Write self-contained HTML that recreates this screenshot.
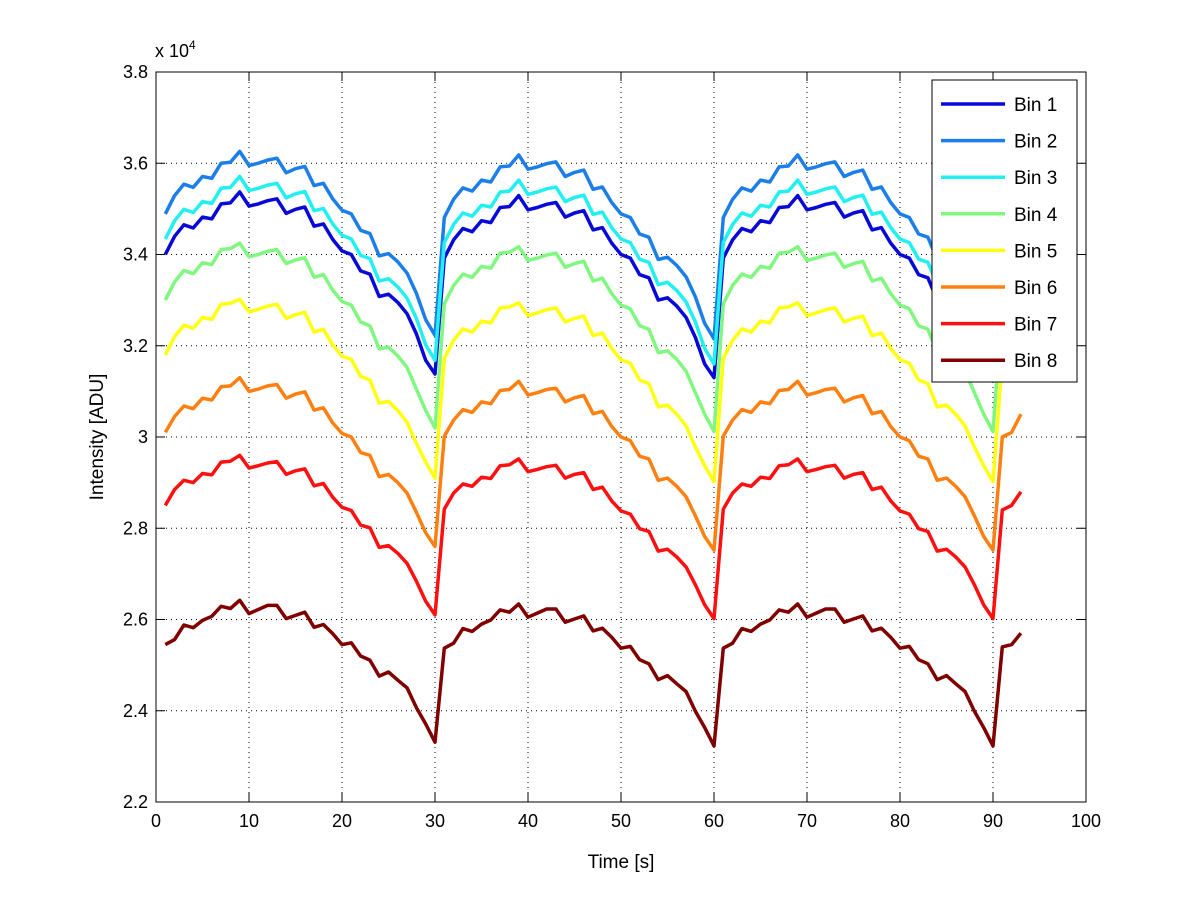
<!DOCTYPE html>
<html><head><meta charset="utf-8"><style>body{margin:0;background:#fff}svg{display:block;font-family:"Liberation Sans",sans-serif}</style></head>
<body>
<svg id="chart" width="1200" height="901" viewBox="0 0 1200 901"></svg>
<script>
const binNames=["Bin 1","Bin 2","Bin 3","Bin 4","Bin 5","Bin 6","Bin 7","Bin 8"];
const binColors=["#0808d8","#1c7ee8","#22f0f0","#80f880","#ffff10","#ff8010","#ff1010","#800000"];
const bin1=[3.400,3.440,3.465,3.458,3.482,3.478,3.511,3.513,3.537,3.506,3.511,3.518,3.522,3.490,3.499,3.504,3.462,3.467,3.433,3.408,3.400,3.364,3.357,3.308,3.313,3.295,3.270,3.226,3.168,3.138];
const bin2=[3.489,3.529,3.554,3.547,3.571,3.567,3.600,3.602,3.626,3.595,3.600,3.607,3.611,3.579,3.588,3.593,3.551,3.556,3.522,3.497,3.489,3.453,3.446,3.397,3.402,3.384,3.359,3.315,3.257,3.223];
const bin3=[3.434,3.474,3.499,3.492,3.516,3.512,3.545,3.547,3.571,3.540,3.545,3.552,3.556,3.524,3.533,3.538,3.496,3.501,3.467,3.442,3.434,3.398,3.391,3.342,3.347,3.329,3.304,3.260,3.202,3.168];
const bin4=[3.300,3.340,3.365,3.358,3.382,3.378,3.411,3.413,3.425,3.395,3.400,3.407,3.411,3.380,3.388,3.393,3.350,3.356,3.322,3.297,3.289,3.252,3.244,3.193,3.197,3.178,3.152,3.105,3.058,3.020];
const bin5=[3.180,3.220,3.245,3.238,3.262,3.258,3.291,3.293,3.302,3.274,3.280,3.287,3.291,3.260,3.268,3.273,3.230,3.236,3.202,3.177,3.170,3.133,3.125,3.074,3.078,3.058,3.032,2.986,2.945,2.910];
const bin6=[3.010,3.045,3.068,3.062,3.085,3.081,3.110,3.112,3.130,3.100,3.105,3.112,3.115,3.085,3.094,3.099,3.059,3.064,3.031,3.008,3.000,2.966,2.960,2.913,2.918,2.900,2.877,2.835,2.790,2.760];
const bin7=[2.850,2.885,2.905,2.900,2.920,2.917,2.945,2.947,2.960,2.932,2.937,2.943,2.946,2.918,2.926,2.930,2.893,2.898,2.868,2.846,2.839,2.807,2.801,2.758,2.762,2.745,2.723,2.684,2.640,2.610];
const bin8=[2.545,2.556,2.588,2.582,2.598,2.607,2.629,2.624,2.642,2.613,2.622,2.631,2.631,2.602,2.609,2.616,2.583,2.589,2.569,2.545,2.549,2.520,2.511,2.476,2.485,2.467,2.450,2.407,2.371,2.331];
const periodOffsets=[0,-0.008,-0.008];
const tail1=[3.39,3.43,3.46],tail2=[3.48,3.52,3.55],tail3=[3.42,3.46,3.49],tail4=[3.29,3.33,3.36];
const tail5=[3.17,3.21,3.24],tail6=[3.00,3.01,3.05],tail7=[2.84,2.85,2.88],tail8=[2.54,2.545,2.57];
const cycles=[bin1,bin2,bin3,bin4,bin5,bin6,bin7,bin8];
const tails=[tail1,tail2,tail3,tail4,tail5,tail6,tail7,tail8];
const xTicks=[0,10,20,30,40,50,60,70,80,90,100];
const yTicks=[2.2,2.4,2.6,2.8,3,3.2,3.4,3.6,3.8];
const yTickLabels=["2.2","2.4","2.6","2.8","3","3.2","3.4","3.6","3.8"];

const L=156,R=1086,T=72,B=802;
const xs=v=>L+(v-0)/(100-0)*(R-L);
const ys=v=>B-(v-2.2)/(3.8-2.2)*(B-T);
const NS="http://www.w3.org/2000/svg";
const svg=document.getElementById('chart');
function mk(tag,attrs,parent){const e=document.createElementNS(NS,tag);for(const k in attrs)e.setAttribute(k,attrs[k]);(parent||svg).appendChild(e);return e;}

const grid=mk('g',{});


xTicks.forEach(t=>{if(t>0&&t<100)mk('line',{x1:xs(t),x2:xs(t),y1:T,y2:B,stroke:'#000','stroke-width':1,'stroke-dasharray':'1,4'},grid);});
yTicks.forEach(t=>{if(t>2.2&&t<3.8)mk('line',{x1:L,x2:R,y1:ys(t),y2:ys(t),stroke:'#000','stroke-width':1,'stroke-dasharray':'1,4'},grid);});

const series=mk('g',{});


cycles.forEach((cyc,bi)=>{
  const pts=[];
  periodOffsets.forEach((off,p)=>{cyc.forEach((v,i)=>{pts.push([p*30+i+1,v+off]);});});
  tails[bi].forEach((v,i)=>pts.push([91+i,v]));
  const pl=mk('polyline',{points:pts.map(q=>xs(q[0]).toFixed(1)+','+ys(q[1]).toFixed(1)).join(' '),fill:'none',stroke:binColors[bi],'stroke-width':3.5,'stroke-linejoin':'round'},series);
  
  
});

const axes=mk('g',{});


mk('rect',{x:L,y:T,width:R-L,height:B-T,fill:'none',stroke:'#000','stroke-width':1},axes);
xTicks.forEach(t=>{
  mk('line',{x1:xs(t),x2:xs(t),y1:B,y2:B-9,stroke:'#000'},axes);
  mk('line',{x1:xs(t),x2:xs(t),y1:T,y2:T+9,stroke:'#000'},axes);
  const tx=mk('text',{x:xs(t),y:B+25,'text-anchor':'middle','font-size':18},axes);
  tx.textContent=t;
  
  
});
yTicks.forEach((t,i)=>{
  mk('line',{x1:L,x2:L+9,y1:ys(t),y2:ys(t),stroke:'#000'},axes);
  mk('line',{x1:R,x2:R-9,y1:ys(t),y2:ys(t),stroke:'#000'},axes);
  const tx=mk('text',{x:L-8,y:ys(t)+6,'text-anchor':'end','font-size':18},axes);
  tx.textContent=yTickLabels[i];
  
  
});
const ex=mk('text',{x:155,y:57,'font-size':18});
ex.innerHTML='x 10<tspan dy="-8" font-size="12">4</tspan>';


const xt=mk('text',{x:(L+R)/2,y:868,'text-anchor':'middle','font-size':19});
xt.textContent='Time [s]';


const yt=mk('text',{x:0,y:0,'text-anchor':'middle','font-size':19,transform:'translate(103,437) rotate(-90)'});
yt.textContent='Intensity [ADU]';



const lg=mk('g',{});


mk('rect',{x:932,y:80,width:145,height:302,fill:'#fff',stroke:'#000','stroke-width':1},lg);
binNames.forEach((n,i)=>{
  const y=104+i*36.6;
  const e=mk('g',{},lg);
  
  
  mk('line',{x1:941,x2:1005,y1:y,y2:y,stroke:binColors[i],'stroke-width':3.5},e);
  const t=mk('text',{x:1014,y:y+7,'font-size':19},e);
  t.textContent=n;
});
</script>
</body></html>
